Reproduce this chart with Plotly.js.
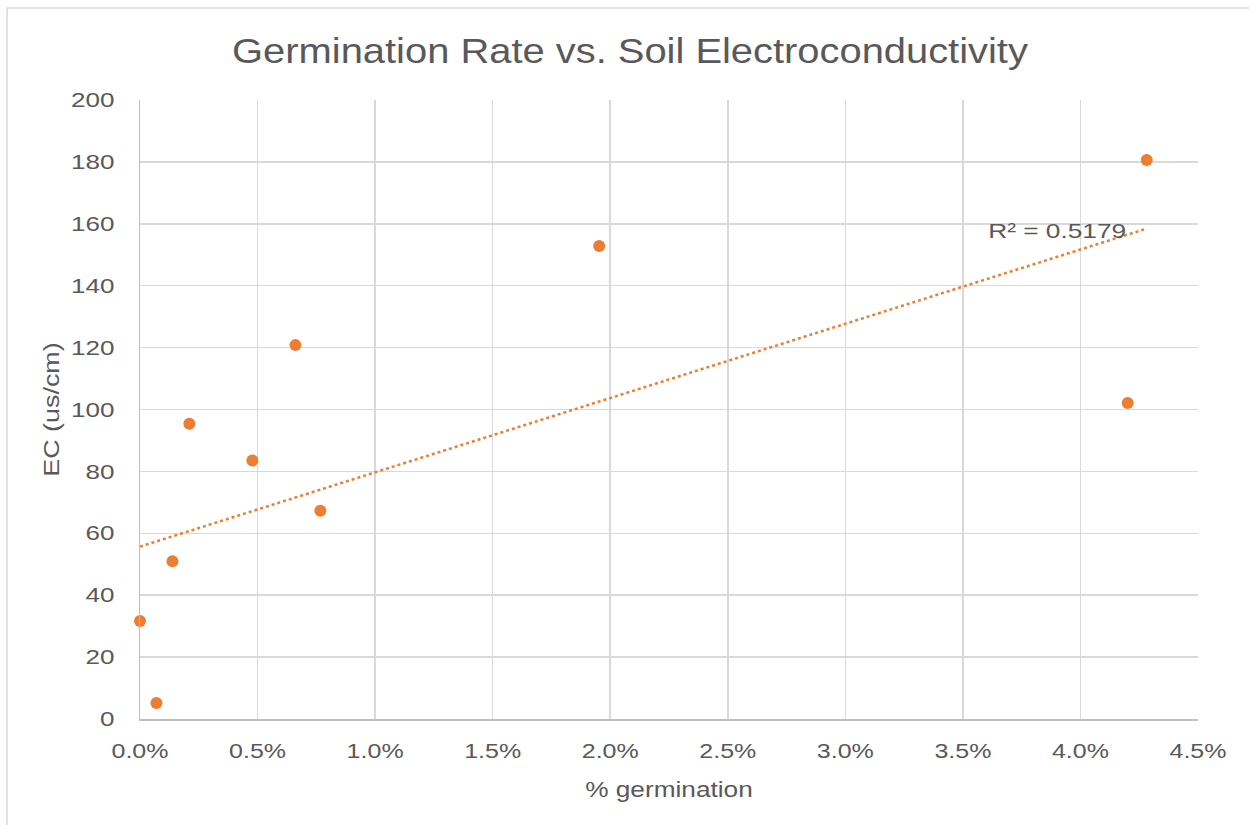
<!DOCTYPE html>
<html>
<head>
<meta charset="utf-8">
<script src="https://cdn.plot.ly/plotly-3.0.1.min.js"></script>
<style>
html,body{margin:0;padding:0;background:#fff;}
#chart{width:1249px;height:825px;}
</style>
</head>
<body>
<div id="chart"></div>
<script>
// % germination (as fraction) and EC (us/cm)
const germination = [0.0000, 0.0007, 0.00138, 0.0021, 0.00478, 0.00661, 0.00767, 0.01953, 0.04201, 0.04282];
const ecValues = [31.7, 5.2, 51.0, 95.4, 83.5, 120.8, 67.3, 152.8, 102.1, 180.6];
// Linear trendline as shown in the chart (intercept in us/cm, slope per unit fraction)
const trendIntercept = 55.7;
const trendSlope = 2400;
const rSquaredLabel = "R² = 0.5179";
const yTicks = [0, 20, 40, 60, 80, 100, 120, 140, 160, 180, 200];
const xTicks = [0, 0.005, 0.01, 0.015, 0.02, 0.025, 0.03, 0.035, 0.04, 0.045];

const orange = '#ED7D31';
const gray = '#595959';
const font = 'Liberation Sans, Arial, sans-serif';

const xMin = Math.min(...germination);
const xMax = Math.max(...germination);
const trendX = [xMin, xMax];
const trendY = trendX.map(x => trendIntercept + trendSlope * x);

const data = [
  {
    x: germination, y: ecValues, type: 'scatter', mode: 'markers',
    marker: {color: orange, size: 12},
    cliponaxis: false, hoverinfo: 'x+y'
  },
  {
    x: trendX, y: trendY, type: 'scatter', mode: 'lines',
    line: {color: orange, width: 2.5, dash: 'dot'},
    cliponaxis: false, hoverinfo: 'skip'
  }
];

const plotW = 1249 - 139.5 - 51;
const plotH = 825 - 100 - 106;

const layout = {
  width: 1249, height: 825,
  margin: {l: 139.5, r: 51, t: 100, b: 106},
  paper_bgcolor: '#fff', plot_bgcolor: '#fff',
  showlegend: false,
  font: {family: font, color: gray, size: 20},
  title: {
    text: 'Germination Rate vs. Soil Electroconductivity',
    font: {family: font, size: 35, color: gray},
    x: 630/1249, xref: 'container', xanchor: 'center',
    y: 1 - 51/825, yref: 'container', yanchor: 'middle'
  },
  xaxis: {
    range: [0, 0.045], tickvals: xTicks, tickformat: '.1%',
    showgrid: true, gridcolor: '#d9d9d9', gridwidth: 1.5,
    showline: true, linecolor: '#bfbfbf', linewidth: 1.5,
    zeroline: false, ticks: '', ticklabelstandoff: 13,
    tickfont: {family: font, size: 20.5, color: gray},
    title: {text: '% germination', font: {family: font, size: 21.5, color: gray}, standoff: 21}
  },
  yaxis: {
    range: [0, 200], tickvals: yTicks,
    showgrid: true, gridcolor: '#d9d9d9', gridwidth: 1.5,
    showline: true, linecolor: '#bfbfbf', linewidth: 1.5,
    zeroline: false, ticks: '', ticklabelstandoff: 20,
    tickfont: {family: font, size: 20.5, color: gray},
    title: {text: 'EC (us/cm)', font: {family: font, size: 21.5, color: gray}, standoff: 14}
  },
  annotations: [
    {
      text: rSquaredLabel, x: 0.039, y: 157.7, xref: 'x', yref: 'y',
      showarrow: false, xanchor: 'center', yanchor: 'middle',
      font: {family: font, size: 21, color: gray}
    }
  ],
  shapes: [
    {type: 'rect', xref: 'paper', yref: 'paper',
     x0: (6.5 - 139.5) / plotW, x1: 1.2, y0: -0.3, y1: (719 - 8) / plotH,
     line: {color: '#d9d9d9', width: 1.5}, fillcolor: 'rgba(0,0,0,0)', layer: 'below'}
  ]
};

// widen text glyphs horizontally (about each text's own anchor) to match the reference's wide rendering
function stretchText(root, selector, s) {
  root.querySelectorAll(selector).forEach(t => {
    const x = parseFloat(t.getAttribute('x') || 0);
    const y = parseFloat(t.getAttribute('y') || 0);
    const tr = t.getAttribute('transform') || '';
    t.setAttribute('transform', (tr + ` translate(${x},${y}) scale(${s},1) translate(${-x},${-y})`).trim());
  });
}

Plotly.newPlot('chart', data, layout, {displayModeBar: false, staticPlot: true}).then(gd => {
  stretchText(gd, '.xtick text', 1.22);
  stretchText(gd, '.ytick text', 1.27);
  stretchText(gd, '.gtitle', 1.14);
  stretchText(gd, '.g-xtitle text', 1.22);
  stretchText(gd, '.g-ytitle text', 1.25);
  stretchText(gd, '.annotation-text', 1.25);
});
</script>
</body>
</html>
